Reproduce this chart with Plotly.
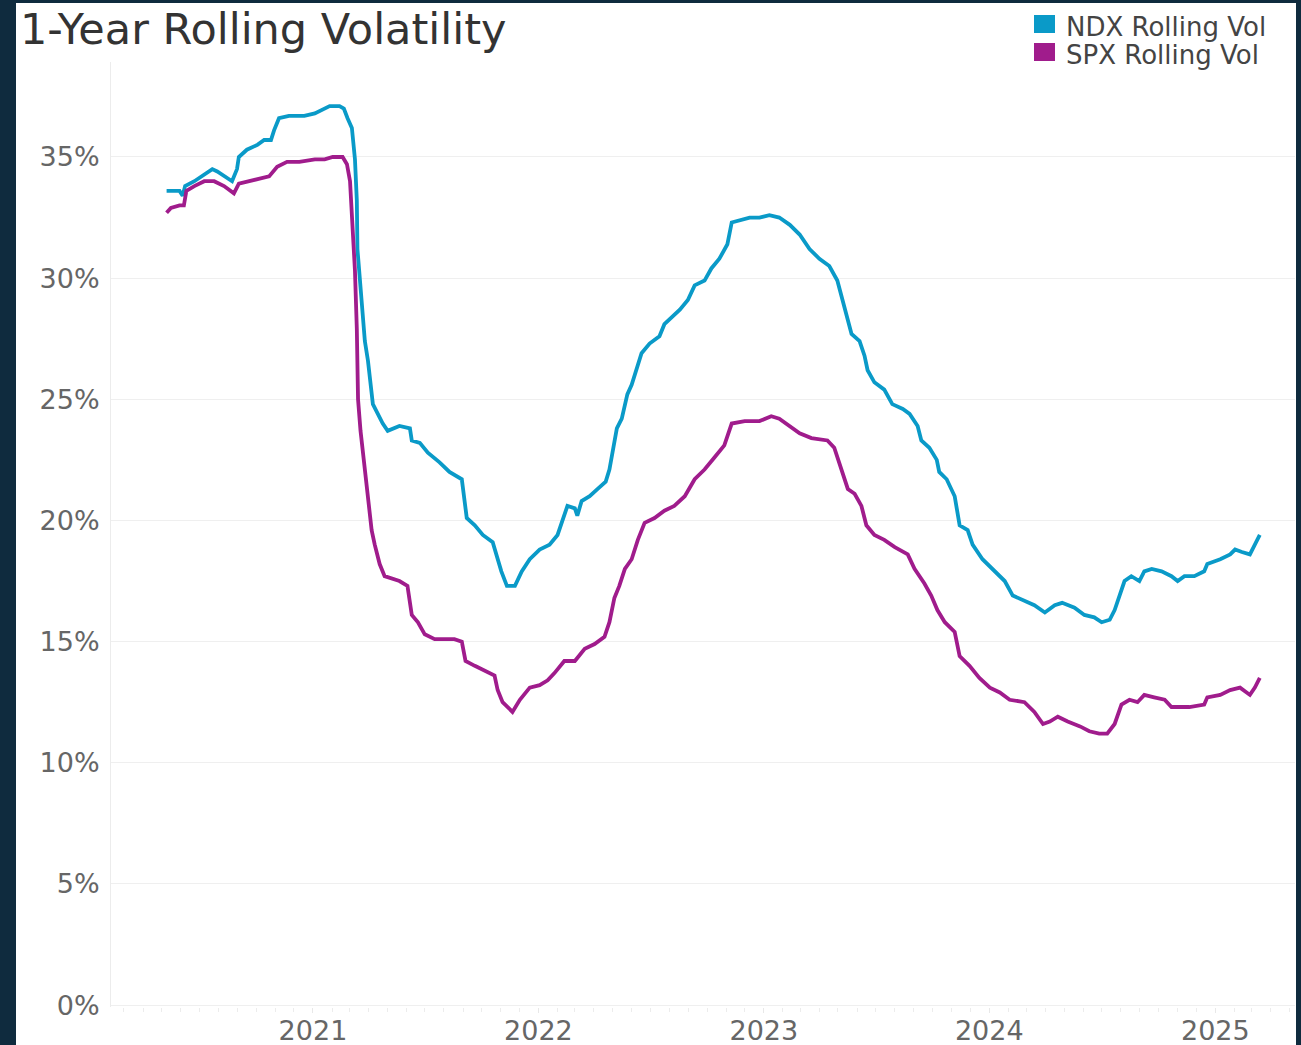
import plotly.graph_objects as go
import pandas as pd

# ---------------- data ----------------
ndx_dates = [
    "2020-05-09", "2020-05-30", "2020-06-04", "2020-06-08", "2020-06-23", "2020-07-09", "2020-07-22",
    "2020-07-30", "2020-08-10", "2020-08-23", "2020-08-31", "2020-09-03", "2020-09-16", "2020-10-03",
    "2020-10-14", "2020-10-25", "2020-10-30", "2020-11-07", "2020-11-23", "2020-12-18", "2021-01-04",
    "2021-01-12", "2021-01-28", "2021-02-13", "2021-02-20", "2021-02-26", "2021-03-05", "2021-03-10",
    "2021-03-13", "2021-03-14", "2021-03-18", "2021-03-21", "2021-03-26", "2021-03-31", "2021-04-03",
    "2021-04-06", "2021-04-08", "2021-04-16", "2021-04-24", "2021-05-02", "2021-05-10", "2021-05-21",
    "2021-06-07", "2021-06-10", "2021-06-23", "2021-07-06", "2021-07-25", "2021-08-10", "2021-08-30",
    "2021-09-04", "2021-09-07", "2021-09-20", "2021-10-03", "2021-10-19", "2021-10-25", "2021-11-02",
    "2021-11-11", "2021-11-24", "2021-12-05", "2021-12-18", "2022-01-03", "2022-01-19", "2022-02-01",
    "2022-02-09", "2022-02-17", "2022-03-01", "2022-03-05", "2022-03-12", "2022-03-25", "2022-04-07",
    "2022-04-20", "2022-04-26", "2022-05-01", "2022-05-08", "2022-05-16", "2022-05-25", "2022-06-01",
    "2022-06-09", "2022-06-17", "2022-06-30", "2022-07-16", "2022-07-24", "2022-08-05", "2022-08-18",
    "2022-08-31", "2022-09-11", "2022-09-27", "2022-10-08", "2022-10-21", "2022-11-03", "2022-11-10",
    "2022-11-23", "2022-12-09", "2022-12-25", "2023-01-10", "2023-01-26", "2023-02-12", "2023-02-28",
    "2023-03-16", "2023-04-01", "2023-04-17", "2023-04-30", "2023-05-08", "2023-05-17", "2023-05-23",
    "2023-06-05", "2023-06-13", "2023-06-18", "2023-06-29", "2023-07-15", "2023-07-28", "2023-08-14",
    "2023-08-25", "2023-09-07", "2023-09-13", "2023-09-26", "2023-10-08", "2023-10-12", "2023-10-24",
    "2023-11-06", "2023-11-14", "2023-11-27", "2023-12-05", "2023-12-21", "2024-01-10", "2024-01-26",
    "2024-02-08", "2024-02-27", "2024-03-14", "2024-03-31", "2024-04-16", "2024-04-28", "2024-05-18",
    "2024-06-03", "2024-06-19", "2024-07-01", "2024-07-14", "2024-07-22", "2024-07-30", "2024-08-07",
    "2024-08-18", "2024-08-31", "2024-09-08", "2024-09-20", "2024-10-06", "2024-10-22", "2024-11-01",
    "2024-11-12", "2024-11-28", "2024-12-14", "2024-12-19", "2025-01-09", "2025-01-25", "2025-02-02",
    "2025-02-13", "2025-02-26", "2025-03-06", "2025-03-14",
]
ndx_vol = [
    33.6, 33.6, 33.4, 33.8, 34.0, 34.3, 34.5,
    34.4, 34.2, 34.0, 34.5, 35.0, 35.3, 35.5,
    35.7, 35.7, 36.1, 36.6, 36.7, 36.7, 36.8,
    36.9, 37.1, 37.1, 37.0, 36.6, 36.2, 34.9,
    33.2, 31.2, 29.9, 28.7, 27.4, 26.6, 25.8,
    25.2, 24.8, 24.4, 24.0, 23.7, 23.8, 23.9,
    23.8, 23.3, 23.2, 22.8, 22.4, 22.0, 21.7,
    20.8, 20.1, 19.8, 19.4, 19.1, 18.6, 17.9,
    17.3, 17.3, 17.9, 18.4, 18.8, 19.0, 19.4,
    20.0, 20.6, 20.5, 20.2, 20.8, 21.0, 21.3,
    21.6, 22.1, 22.9, 23.8, 24.2, 25.2, 25.6,
    26.3, 26.9, 27.3, 27.6, 28.1, 28.4, 28.7,
    29.1, 29.7, 29.9, 30.4, 30.8, 31.4, 32.3,
    32.4, 32.5, 32.5, 32.6, 32.5, 32.2, 31.8,
    31.2, 30.8, 30.5, 29.9, 29.1, 28.3, 27.7,
    27.4, 26.8, 26.2, 25.7, 25.4, 24.8, 24.6,
    24.4, 23.9, 23.3, 23.0, 22.5, 22.0, 21.7,
    21.0, 19.8, 19.6, 19.0, 18.4, 17.9, 17.5,
    16.9, 16.7, 16.5, 16.2, 16.5, 16.6, 16.4,
    16.1, 16.0, 15.8, 15.9, 16.3, 16.9, 17.5,
    17.7, 17.5, 17.9, 18.0, 17.9, 17.7, 17.5,
    17.7, 17.7, 17.9, 18.2, 18.4, 18.6, 18.8,
    18.7, 18.6, 19.0, 19.4,
]

spx_dates = [
    "2020-05-09", "2020-05-16", "2020-05-30", "2020-06-06", "2020-06-10", "2020-06-23", "2020-07-09",
    "2020-07-25", "2020-08-10", "2020-08-26", "2020-09-03", "2020-09-20", "2020-10-06", "2020-10-22",
    "2020-11-04", "2020-11-20", "2020-12-10", "2021-01-04", "2021-01-20", "2021-02-02", "2021-02-18",
    "2021-02-25", "2021-03-02", "2021-03-06", "2021-03-10", "2021-03-13", "2021-03-15", "2021-03-19",
    "2021-03-26", "2021-03-31", "2021-04-06", "2021-04-11", "2021-04-19", "2021-04-27", "2021-05-10",
    "2021-05-21", "2021-06-03", "2021-06-10", "2021-06-20", "2021-07-01", "2021-07-17", "2021-08-02",
    "2021-08-18", "2021-08-30", "2021-09-05", "2021-09-20", "2021-10-06", "2021-10-22", "2021-10-27",
    "2021-11-04", "2021-11-20", "2021-12-02", "2021-12-18", "2022-01-03", "2022-01-16", "2022-01-27",
    "2022-02-12", "2022-03-01", "2022-03-17", "2022-04-02", "2022-04-18", "2022-04-26", "2022-05-04",
    "2022-05-12", "2022-05-21", "2022-06-01", "2022-06-11", "2022-06-22", "2022-07-08", "2022-07-24",
    "2022-08-09", "2022-08-26", "2022-09-11", "2022-09-27", "2022-10-13", "2022-10-29", "2022-11-10",
    "2022-12-01", "2022-12-25", "2023-01-13", "2023-01-26", "2023-02-12", "2023-02-28", "2023-03-19",
    "2023-04-14", "2023-04-25", "2023-05-07", "2023-05-17", "2023-05-28", "2023-06-08", "2023-06-16",
    "2023-06-29", "2023-07-15", "2023-08-01", "2023-08-22", "2023-09-02", "2023-09-18", "2023-09-29",
    "2023-10-09", "2023-10-21", "2023-11-06", "2023-11-14", "2023-11-30", "2023-12-16", "2024-01-02",
    "2024-01-18", "2024-02-03", "2024-02-27", "2024-03-14", "2024-03-28", "2024-04-08", "2024-04-21",
    "2024-05-07", "2024-05-27", "2024-06-11", "2024-06-27", "2024-07-10", "2024-07-22", "2024-08-02",
    "2024-08-15", "2024-08-28", "2024-09-08", "2024-09-24", "2024-10-11", "2024-10-22", "2024-11-01",
    "2024-11-20", "2024-12-14", "2024-12-19", "2025-01-09", "2025-01-25", "2025-02-10", "2025-02-26",
    "2025-03-06", "2025-03-14",
]
spx_vol = [
    32.7, 32.9, 33.0, 33.0, 33.6, 33.8, 34.0,
    34.0, 33.8, 33.5, 33.9, 34.0, 34.1, 34.2,
    34.6, 34.8, 34.8, 34.9, 34.9, 35.0, 35.0,
    34.7, 34.0, 32.4, 30.3, 27.9, 25.0, 23.7,
    22.1, 20.8, 19.6, 19.0, 18.2, 17.7, 17.6,
    17.5, 17.3, 16.1, 15.8, 15.3, 15.1, 15.1,
    15.1, 15.0, 14.2, 14.0, 13.8, 13.6, 13.0,
    12.5, 12.1, 12.6, 13.1, 13.2, 13.4, 13.7,
    14.2, 14.2, 14.7, 14.9, 15.2, 15.8, 16.8,
    17.3, 18.0, 18.4, 19.2, 19.9, 20.1, 20.4,
    20.6, 21.0, 21.7, 22.1, 22.6, 23.1, 24.0,
    24.1, 24.1, 24.3, 24.2, 23.9, 23.6, 23.4,
    23.3, 23.0, 22.1, 21.3, 21.1, 20.6, 19.8,
    19.4, 19.2, 18.9, 18.6, 18.0, 17.4, 16.9,
    16.3, 15.8, 15.4, 14.4, 14.0, 13.5, 13.1,
    12.9, 12.6, 12.5, 12.1, 11.6, 11.7, 11.9,
    11.7, 11.5, 11.3, 11.2, 11.2, 11.6, 12.4,
    12.6, 12.5, 12.8, 12.7, 12.6, 12.3, 12.3,
    12.3, 12.4, 12.7, 12.8, 13.0, 13.1, 12.8,
    13.1, 13.5,
]

series_names = ["NDX Rolling Vol", "SPX Rolling Vol"]
series_colors = ["#0a9ac8", "#a01c8c"]

y_ticks = [0, 5, 10, 15, 20, 25, 30, 35]
y_tick_labels = ["0%", "5%", "10%", "15%", "20%", "25%", "30%", "35%"]
x_ticks = ["2021-01-01", "2022-01-01", "2023-01-01", "2024-01-01", "2025-01-01"]
x_tick_labels = ["2021", "2022", "2023", "2024", "2025"]

# ---------------- figure ----------------
W, H = 1301, 1045
ML, MR, MT, MB = 111, 6, 62, 38
pw = W - ML - MR
ph = H - MT - MB


def px_x(px):
    return (px - ML) / pw


def px_y(py):
    return (H - MB - py) / ph


fig = go.Figure()

for dates, vals, name, col in [
    (ndx_dates, ndx_vol, series_names[0], series_colors[0]),
    (spx_dates, spx_vol, series_names[1], series_colors[1]),
]:
    fig.add_trace(go.Scatter(
        x=pd.to_datetime(dates), y=vals, mode="lines", name=name,
        line=dict(color=col, width=3.8), showlegend=False, hoverinfo="skip",
    ))

shapes = []
# white card on a dark background
shapes.append(dict(
    type="rect", xref="paper", yref="paper", layer="below",
    x0=px_x(16), x1=px_x(1296), y0=px_y(1046), y1=px_y(3),
    fillcolor="white", line=dict(width=0),
))

annotations = []
# manual legend (square swatches + labels)
for i, (name, col) in enumerate(zip(series_names, series_colors)):
    top = 15 + 28 * i
    shapes.append(dict(
        type="rect", xref="paper", yref="paper",
        x0=px_x(1034), x1=px_x(1055), y0=px_y(top + 18), y1=px_y(top),
        fillcolor=col, line=dict(width=0),
    ))
    annotations.append(dict(
        text=name, xref="paper", yref="paper",
        x=px_x(1064), y=px_y(top + 12), xanchor="left", yanchor="middle",
        showarrow=False, font=dict(family="DejaVu Sans", size=26, color="#444444"),
    ))

fig.update_layout(
    width=W, height=H,
    margin=dict(l=ML, r=MR, t=MT, b=MB, pad=0, autoexpand=False),
    paper_bgcolor="#0f2b3e",
    plot_bgcolor="white",
    showlegend=False,
    font=dict(family="DejaVu Sans", color="#666666"),
    title=dict(
        text="1-Year Rolling Volatility",
        font=dict(family="DejaVu Sans", size=43, color="#333333"),
        xref="container", yref="container",
        x=20 / W, xanchor="left", y=1 - 29 / H, yanchor="middle",
    ),
    shapes=shapes,
    annotations=annotations,
    xaxis=dict(
        type="date",
        range=["2020-02-09", "2025-05-10"],
        tickvals=pd.to_datetime(x_ticks), ticktext=x_tick_labels,
        tickfont=dict(size=27, color="#666666"),
        showgrid=False, zeroline=False, showline=False,
        ticks="outside", ticklen=5, tickcolor="#e8e8e8",
        ticklabelstandoff=-5,
        minor=dict(ticks="outside", dtick="M1", ticklen=4, tickcolor="#ececec", showgrid=False),
    ),
    yaxis=dict(
        range=[-0.08, 38.92],
        tickvals=y_ticks, ticktext=y_tick_labels,
        tickfont=dict(size=27, color="#666666"),
        showgrid=True, gridcolor="#efefef", gridwidth=1,
        zeroline=False, showline=True, linecolor="#ececec", linewidth=1,
        ticks="", ticklabelstandoff=5,
    ),
)

fig.write_html(
    "out.html",
    config={"displayModeBar": False},
    post_script="document.body.style.margin='0';document.body.style.overflow='hidden';",
)
